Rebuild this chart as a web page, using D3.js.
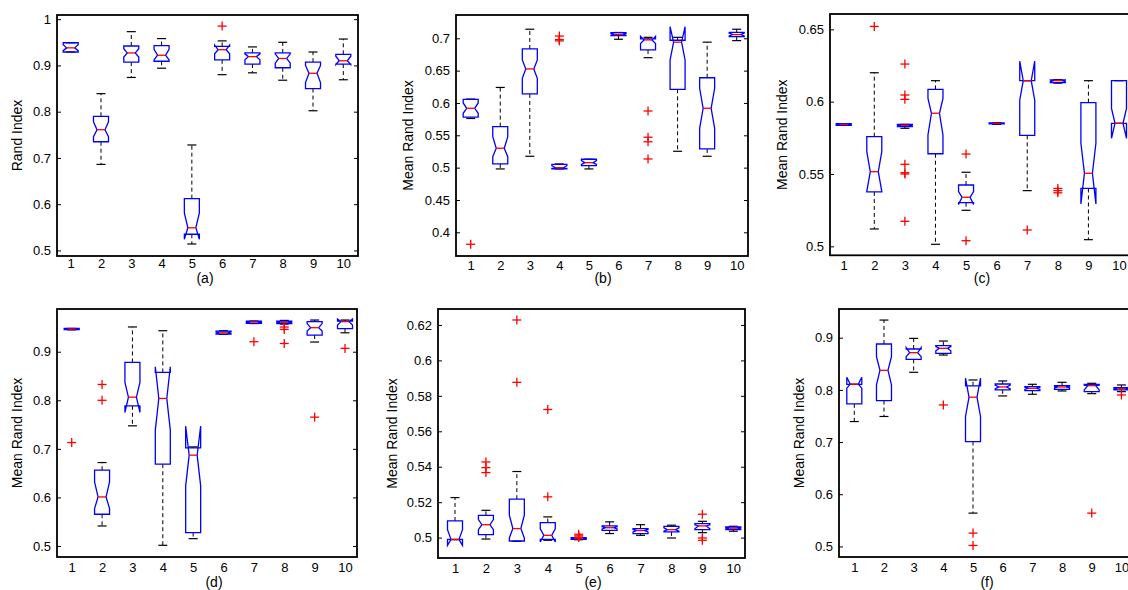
<!DOCTYPE html>
<html>
<head>
<meta charset="utf-8">
<script src="https://cdn.jsdelivr.net/npm/d3@7"></script>
<style>
  body { margin: 0; background: #fff; }
  text { font-family: Arial, "Liberation Sans", Helvetica, sans-serif; fill: #000; }
</style>
</head>
<body>
<svg id="fig" width="1128" height="590"></svg>
<script>
// x categories shared by all panels
var groups = [1, 2, 3, 4, 5, 6, 7, 8, 9, 10];

// Panel (a)
var aWhiskerHigh = [0.949, 0.839, 0.973, 0.958, 0.728, 0.953, 0.940, 0.950, 0.929, 0.957];
var aQ3          = [0.949, 0.790, 0.942, 0.943, 0.612, 0.941, 0.927, 0.927, 0.907, 0.924];
var aNotchHigh   = [0.945, 0.778, 0.936, 0.935, 0.581, 0.944, 0.925, 0.925, 0.900, 0.920];
var aMedian      = [0.938, 0.761, 0.927, 0.922, 0.549, 0.934, 0.919, 0.915, 0.883, 0.910];
var aNotchLow    = [0.932, 0.746, 0.918, 0.912, 0.524, 0.925, 0.912, 0.905, 0.863, 0.902];
var aQ1          = [0.929, 0.735, 0.907, 0.909, 0.535, 0.912, 0.903, 0.895, 0.850, 0.903];
var aWhiskerLow  = [0.929, 0.686, 0.874, 0.894, 0.514, 0.880, 0.884, 0.868, 0.802, 0.869];
var aOutliers    = [[], [], [], [], [], [0.985], [], [], [], []];
var aTicks       = [0.5, 0.6, 0.7, 0.8, 0.9, 1];

// Panel (b)
var bWhiskerHigh = [0.606, 0.624, 0.714, 0.5057, 0.513, 0.709, 0.7015, 0.7015, 0.694, 0.714];
var bQ3          = [0.6057, 0.5634, 0.6835, 0.5052, 0.513, 0.7088, 0.699, 0.697, 0.639, 0.709];
var bNotchHigh   = [0.600, 0.548, 0.6665, 0.503, 0.511, 0.7075, 0.703, 0.718, 0.6227, 0.708];
var bMedian      = [0.5918, 0.530, 0.6526, 0.500, 0.5077, 0.706, 0.6975, 0.694, 0.5918, 0.7057];
var bNotchLow    = [0.584, 0.517, 0.638, 0.499, 0.505, 0.7048, 0.692, 0.6665, 0.5608, 0.7035];
var bQ1          = [0.578, 0.5057, 0.614, 0.498, 0.503, 0.704, 0.682, 0.6211, 0.5289, 0.7026];
var bWhiskerLow  = [0.576, 0.498, 0.5176, 0.498, 0.498, 0.6985, 0.670, 0.5253, 0.5176, 0.6964];
var bOutliers    = [[0.3815], [], [], [0.7035, 0.698, 0.696], [], [], [0.5876, 0.547, 0.540, 0.5134], [], [], []];
var bTicks       = [0.4, 0.45, 0.5, 0.55, 0.6, 0.65, 0.7];

// Panel (c)
var cWhiskerHigh = [0.5848, 0.620, 0.5843, 0.6145, 0.5512, 0.5855, 0.6145, 0.6152, 0.6145, 0.6145];
var cQ3          = [0.5848, 0.5758, 0.5843, 0.6085, 0.5424, 0.5853, 0.6145, 0.615, 0.5993, 0.6145];
var cNotchHigh   = [0.5846, 0.5654, 0.5841, 0.6023, 0.5378, 0.5851, 0.628, 0.6148, 0.5712, 0.5954];
var cMedian      = [0.5843, 0.5516, 0.5836, 0.592, 0.5339, 0.585, 0.6145, 0.6145, 0.5505, 0.585];
var cNotchLow    = [0.584, 0.538, 0.583, 0.577, 0.529, 0.5848, 0.601, 0.6138, 0.5293, 0.5747];
var cQ1          = [0.5836, 0.5376, 0.5827, 0.564, 0.5302, 0.5846, 0.5767, 0.6131, 0.540, 0.585];
var cWhiskerLow  = [0.5836, 0.512, 0.5816, 0.5014, 0.5249, 0.5843, 0.5385, 0.6128, 0.5046, 0.585];
var cOutliers    = [[], [0.652], [0.626, 0.6046, 0.6016, 0.5567, 0.5509, 0.55, 0.5173], [], [0.5638, 0.5039], [], [0.5113], [0.54, 0.5385, 0.537], [], []];
var cTicks       = [0.5, 0.55, 0.6, 0.65];

// Panel (d)
var dWhiskerHigh = [0.948, 0.6718, 0.951, 0.9433, 0.704, 0.9433, 0.9632, 0.9645, 0.9653, 0.9653];
var dQ3          = [0.948, 0.656, 0.878, 0.8574, 0.702, 0.9426, 0.9632, 0.9632, 0.9619, 0.9632];
var dNotchHigh   = [0.9474, 0.632, 0.8368, 0.869, 0.7467, 0.9408, 0.9625, 0.962, 0.958, 0.9674];
var dMedian      = [0.9467, 0.601, 0.8065, 0.8038, 0.687, 0.939, 0.9612, 0.9605, 0.9495, 0.962];
var dNotchLow    = [0.946, 0.577, 0.775, 0.7385, 0.6237, 0.9372, 0.960, 0.959, 0.9426, 0.955];
var dQ1          = [0.9454, 0.5653, 0.7887, 0.6684, 0.5275, 0.9364, 0.9584, 0.9577, 0.9344, 0.9474];
var dWhiskerLow  = [0.945, 0.5412, 0.7474, 0.5014, 0.5151, 0.9357, 0.958, 0.957, 0.920, 0.939];
var dOutliers    = [[0.713], [0.8326, 0.80], [], [], [], [], [0.9206], [0.9509, 0.946, 0.917], [0.7653], [0.9069]];
var dTicks       = [0.5, 0.6, 0.7, 0.8, 0.9];

// Panel (e)
var eWhiskerHigh = [0.5226, 0.5154, 0.5373, 0.5117, 0.5002, 0.5089, 0.5073, 0.507, 0.5092, 0.5064];
var eQ3          = [0.5094, 0.5126, 0.5217, 0.5085, 0.5, 0.5066, 0.5051, 0.5064, 0.5079, 0.506];
var eNotchHigh   = [0.5045, 0.5102, 0.5126, 0.505, 0.4997, 0.5061, 0.5046, 0.5055, 0.5072, 0.5056];
var eMedian      = [0.499, 0.5073, 0.5051, 0.5013, 0.4994, 0.5056, 0.504, 0.5045, 0.5066, 0.5053];
var eNotchLow    = [0.4956, 0.5045, 0.4998, 0.4975, 0.4991, 0.5049, 0.5032, 0.5036, 0.505, 0.5049];
var eQ1          = [0.499, 0.5017, 0.4981, 0.499, 0.499, 0.5041, 0.5023, 0.5032, 0.5045, 0.5045];
var eWhiskerLow  = [0.4988, 0.4992, 0.4979, 0.4985, 0.4988, 0.5023, 0.5013, 0.4998, 0.5028, 0.5036];
var eOutliers    = [[], [0.5427, 0.5395, 0.5367], [0.6228, 0.5876], [0.5723, 0.523], [0.5019, 0.501, 0.500], [], [], [], [0.5132, 0.4998, 0.4985], []];
var eTicks       = [0.5, 0.52, 0.54, 0.56, 0.58, 0.6, 0.62];

// Panel (f)
var fWhiskerHigh = [0.8107, 0.9338, 0.8987, 0.8936, 0.819, 0.8171, 0.8107, 0.8145, 0.8126, 0.8094];
var fQ3          = [0.8107, 0.8879, 0.8783, 0.8847, 0.8077, 0.8113, 0.8062, 0.8081, 0.8107, 0.8043];
var fNotchHigh   = [0.8243, 0.8636, 0.8809, 0.883, 0.8223, 0.809, 0.805, 0.807, 0.809, 0.8035];
var fMedian      = [0.8109, 0.8375, 0.8713, 0.8796, 0.786, 0.8056, 0.8031, 0.8056, 0.8081, 0.8024];
var fNotchLow    = [0.8033, 0.8096, 0.8636, 0.875, 0.749, 0.802, 0.801, 0.804, 0.800, 0.801];
var fQ1          = [0.7732, 0.7795, 0.8585, 0.870, 0.701, 0.800, 0.7987, 0.8011, 0.7967, 0.800];
var fWhiskerLow  = [0.7393, 0.749, 0.8337, 0.8668, 0.5638, 0.7884, 0.7916, 0.7979, 0.7928, 0.7966];
var fOutliers    = [[], [], [], [0.7711], [0.5255, 0.5019], [], [], [], [0.5638], [0.7903]];
var fTicks       = [0.5, 0.6, 0.7, 0.8, 0.9];

// Build box stats per panel
function stats(wh, q3, nh, med, nl, q1, wl, out) {
    return groups.map(function(g, i) {
        return {g: g, wh: wh[i], q3: q3[i], nh: nh[i], med: med[i], nl: nl[i], q1: q1[i], wl: wl[i], out: out[i]};
    });
}

// Panel placement on the page
var panels = [
    {label: "(a)", ylab: "Rand Index", left: 57, right: 358, top: 15, bottom: 256, x1: 70.7, x10: 343.3, ydom: [0.488, 1.009], ticks: aTicks, xpad: 3, ylabX: 17, subX: 205, subY: 283,
     boxes: stats(aWhiskerHigh, aQ3, aNotchHigh, aMedian, aNotchLow, aQ1, aWhiskerLow, aOutliers)},
    {label: "(b)", ylab: "Mean Rand Index", left: 456, right: 748, top: 15, bottom: 256, x1: 470.7, x10: 736.7, ydom: [0.3634, 0.736], ticks: bTicks, xpad: 5, ylabX: 408, subX: 603, subY: 283,
     boxes: stats(bWhiskerHigh, bQ3, bNotchHigh, bMedian, bNotchLow, bQ1, bWhiskerLow, bOutliers)},
    {label: "(c)", ylab: "Mean Rand Index", left: 830, right: 1134, top: 14, bottom: 255.3, x1: 843.7, x10: 1119, ydom: [0.4938, 0.6606], ticks: cTicks, xpad: 5.5, ylabX: 782, subX: 982, subY: 283,
     boxes: stats(cWhiskerHigh, cQ3, cNotchHigh, cMedian, cNotchLow, cQ1, cWhiskerLow, cOutliers)},
    {label: "(d)", ylab: "Mean Rand Index", left: 57, right: 357, top: 309, bottom: 557, x1: 71.7, x10: 345, ydom: [0.4773, 0.988], ticks: dTicks, xpad: 6, ylabX: 17, subX: 214, subY: 587,
     boxes: stats(dWhiskerHigh, dQ3, dNotchHigh, dMedian, dNotchLow, dQ1, dWhiskerLow, dOutliers)},
    {label: "(e)", ylab: "Mean Rand Index", left: 438, right: 745, top: 309, bottom: 558, x1: 455, x10: 733.3, ydom: [0.4885, 0.629], ticks: eTicks, xpad: 6, ylabX: 392, subX: 593, subY: 587,
     boxes: stats(eWhiskerHigh, eQ3, eNotchHigh, eMedian, eNotchLow, eQ1, eWhiskerLow, eOutliers)},
    {label: "(f)", ylab: "Mean Rand Index", left: 839, right: 1136, top: 309, bottom: 557, x1: 854.3, x10: 1121.4, ydom: [0.4797, 0.955], ticks: fTicks, xpad: 6, ylabX: 799, subX: 987, subY: 587,
     boxes: stats(fWhiskerHigh, fQ3, fNotchHigh, fMedian, fNotchLow, fQ1, fWhiskerLow, fOutliers)}
];

var svg = d3.select("#fig");
var halfW = 7.5, indent = 3.5, capW = 4.5, plus = 4.5;
var fmt = d3.format(".2~f");

panels.forEach(function(p) {
    var x = d3.scaleLinear().domain([1, 10]).range([p.x1, p.x10]);
    var y = d3.scaleLinear().domain(p.ydom).range([p.bottom, p.top]);
    var g = svg.append("g");

    // Left ticks pointing inward, with labels
    var ly = g.append("g").attr("transform", "translate(" + p.left + ",0)")
        .call(d3.axisLeft(y).tickValues(p.ticks).tickFormat(fmt).tickSizeInner(-4).tickSizeOuter(0).tickPadding(6));
    ly.select(".domain").remove();
    ly.selectAll("text").style("font-size", "13px").style("font-family", "Arial, 'Liberation Sans', sans-serif");

    // Right ticks pointing inward
    var ry = g.append("g").attr("transform", "translate(" + p.right + ",0)")
        .call(d3.axisRight(y).tickValues(p.ticks).tickFormat("").tickSizeInner(-4).tickSizeOuter(0));
    ry.select(".domain").remove();

    // Category labels
    var bx = g.append("g").attr("transform", "translate(0," + p.bottom + ")")
        .call(d3.axisBottom(x).tickValues(groups).tickFormat(d3.format("d")).tickSize(0).tickPadding(p.xpad));
    bx.select(".domain").remove();
    bx.selectAll("text").style("font-size", "13px").style("font-family", "Arial, 'Liberation Sans', sans-serif");

    var box = g.selectAll(".box").data(p.boxes).enter().append("g").attr("class", "box");

    // Whiskers (dashed) and caps
    box.append("line")
        .attr("x1", function(d) { return x(d.g); }).attr("x2", function(d) { return x(d.g); })
        .attr("y1", function(d) { return y(d.q3); }).attr("y2", function(d) { return y(d.wh); })
        .attr("stroke", "#000").attr("stroke-width", 1).attr("stroke-dasharray", "4,3");
    box.append("line")
        .attr("x1", function(d) { return x(d.g); }).attr("x2", function(d) { return x(d.g); })
        .attr("y1", function(d) { return y(d.q1); }).attr("y2", function(d) { return y(d.wl); })
        .attr("stroke", "#000").attr("stroke-width", 1).attr("stroke-dasharray", "4,3");
    box.append("line")
        .attr("x1", function(d) { return x(d.g) - capW; }).attr("x2", function(d) { return x(d.g) + capW; })
        .attr("y1", function(d) { return y(d.wh); }).attr("y2", function(d) { return y(d.wh); })
        .attr("stroke", "#000").attr("stroke-width", 1.2);
    box.append("line")
        .attr("x1", function(d) { return x(d.g) - capW; }).attr("x2", function(d) { return x(d.g) + capW; })
        .attr("y1", function(d) { return y(d.wl); }).attr("y2", function(d) { return y(d.wl); })
        .attr("stroke", "#000").attr("stroke-width", 1.2);

    // Notched box outline
    box.append("path")
        .attr("d", function(d) {
            var c = x(d.g), l = c - halfW, r = c + halfW;
            return "M" + l + "," + y(d.q1) + "L" + l + "," + y(d.nl) + "L" + (l + indent) + "," + y(d.med) +
                "L" + l + "," + y(d.nh) + "L" + l + "," + y(d.q3) + "L" + r + "," + y(d.q3) +
                "L" + r + "," + y(d.nh) + "L" + (r - indent) + "," + y(d.med) + "L" + r + "," + y(d.nl) +
                "L" + r + "," + y(d.q1) + "Z";
        })
        .attr("fill", "none").attr("stroke", "#0000ff").attr("stroke-width", 1.3);

    // Median
    box.append("line")
        .attr("x1", function(d) { return x(d.g) - halfW + indent; }).attr("x2", function(d) { return x(d.g) + halfW - indent; })
        .attr("y1", function(d) { return y(d.med); }).attr("y2", function(d) { return y(d.med); })
        .attr("stroke", "#ff0000").attr("stroke-width", 1.3);

    // Outliers as red plus signs
    box.each(function(d) {
        var o = d3.select(this).selectAll(".out").data(d.out).enter().append("g").attr("class", "out");
        o.append("line")
            .attr("x1", x(d.g) - plus).attr("x2", x(d.g) + plus)
            .attr("y1", function(v) { return y(v); }).attr("y2", function(v) { return y(v); })
            .attr("stroke", "#ff0000").attr("stroke-width", 1.3);
        o.append("line")
            .attr("x1", x(d.g)).attr("x2", x(d.g))
            .attr("y1", function(v) { return y(v) - plus; }).attr("y2", function(v) { return y(v) + plus; })
            .attr("stroke", "#ff0000").attr("stroke-width", 1.3);
    });

    // Frame
    g.append("rect")
        .attr("x", p.left).attr("y", p.top)
        .attr("width", p.right - p.left).attr("height", p.bottom - p.top)
        .attr("fill", "none").attr("stroke", "#000").attr("stroke-width", 1.8);

    // Y label
    g.append("text")
        .attr("transform", "translate(" + p.ylabX + "," + ((p.top + p.bottom) / 2) + ") rotate(-90)")
        .attr("text-anchor", "middle").attr("dy", "0.35em")
        .style("font-size", "14px")
        .text(p.ylab);

    // Sub-figure label
    g.append("text")
        .attr("x", p.subX).attr("y", p.subY)
        .attr("text-anchor", "middle")
        .style("font-size", "14px")
        .text(p.label);
});
</script>
</body>
</html>
